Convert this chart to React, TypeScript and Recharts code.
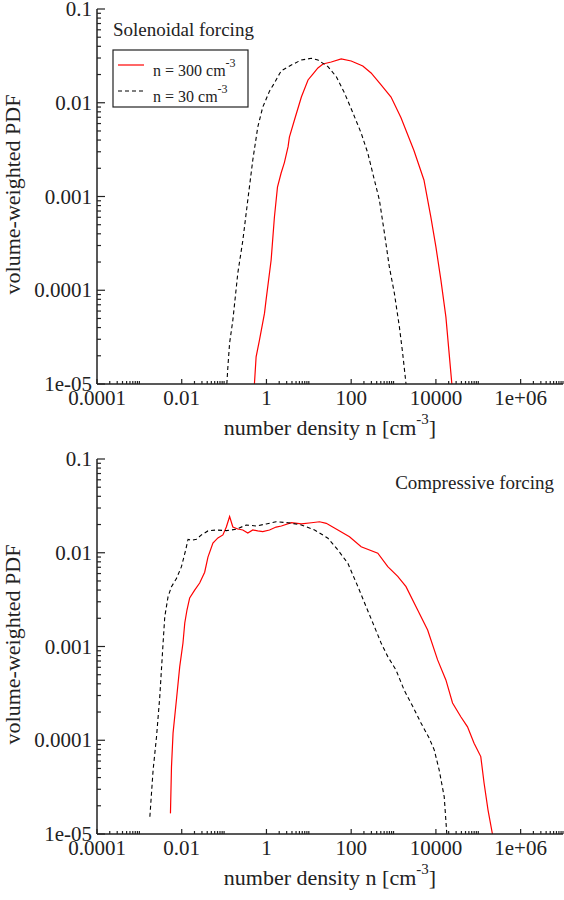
import React from 'react';
import { LineChart, Line, XAxis, YAxis, Legend, Label } from 'recharts';

// solenoidal forcing, n0 = 300 cm^-3
const solHiN = [0.52, 0.57, 0.68, 0.9, 0.98, 1.29, 1.54, 1.82, 2.22, 2.65, 3.24, 3.48, 4.56, 6.67, 9.58, 12.6, 16.4, 21.6, 33.8, 58.2, 100, 188, 295, 508, 873, 1500, 3030, 5220, 7620, 10000, 13100, 17200, 20200, 23800];
const solHiP = [1e-5, 1.95e-5, 2.9e-5, 5.7e-5, 7.9e-5, 2.1e-4, 6.0e-4, 1.26e-3, 1.78e-3, 2.3e-3, 3.4e-3, 4.3e-3, 6.5e-3, 1.15e-2, 1.75e-2, 2.03e-2, 2.35e-2, 2.59e-2, 2.72e-2, 2.93e-2, 2.79e-2, 2.47e-2, 2.08e-2, 1.55e-2, 1.15e-2, 6.9e-3, 3.1e-3, 1.5e-3, 6.0e-4, 2.9e-4, 1.29e-4, 5.2e-5, 2.3e-5, 1e-5];

// solenoidal forcing, n0 = 30 cm^-3
const solLoN = [0.116, 0.123, 0.135, 0.161, 0.211, 0.277, 0.363, 0.476, 0.624, 0.818, 1.18, 1.54, 2.02, 2.25, 3.87, 6.67, 11.5, 16.4, 28.3, 44.4, 69.5, 110, 172, 247, 353, 463, 608, 796, 1045, 1370, 1640, 1970];
const solLoP = [1e-5, 1.53e-5, 2.74e-5, 4.8e-5, 1.53e-4, 3.4e-4, 9.2e-4, 2.45e-3, 5.5e-3, 9.0e-3, 1.33e-2, 1.62e-2, 2.03e-2, 2.2e-2, 2.53e-2, 2.86e-2, 2.98e-2, 2.86e-2, 2.43e-2, 1.9e-2, 1.27e-2, 7.8e-3, 4.75e-3, 2.9e-3, 1.5e-3, 9.2e-4, 4.1e-4, 1.77e-4, 9.3e-5, 4.1e-5, 2.14e-5, 1e-5];

// compressive forcing, n0 = 300 cm^-3
const comHiN = [5.42e-3, 5.73e-3, 6.24e-3, 7.5e-3, 8.97e-3, 1.07e-2, 1.18e-2, 1.33e-2, 1.54e-2, 2.02e-2, 2.65e-2, 3.48e-2, 4.16e-2, 5.45e-2, 7.14e-2, 9.38e-2, 0.113, 0.135, 0.161, 0.211, 0.277, 0.363, 0.476, 0.624, 0.818, 1.18, 1.69, 2.25, 3.87, 6.67, 11.5, 17.9, 25.8, 48.6, 91.2, 172, 425, 731, 1256, 1970, 3710, 6380, 10960, 17200, 24700, 38700, 55700, 79600, 114600, 137000, 170000, 216000];
const comHiP = [1.66e-5, 5.2e-5, 1.19e-4, 2.7e-4, 6.1e-4, 1.09e-3, 1.78e-3, 2.45e-3, 3.3e-3, 4.0e-3, 4.75e-3, 6.2e-3, 9.0e-3, 1.27e-2, 1.44e-2, 1.55e-2, 1.88e-2, 2.43e-2, 1.88e-2, 1.79e-2, 1.75e-2, 1.62e-2, 1.75e-2, 1.71e-2, 1.68e-2, 1.75e-2, 1.88e-2, 1.93e-2, 2.09e-2, 2.03e-2, 2.09e-2, 2.14e-2, 2.06e-2, 1.75e-2, 1.48e-2, 1.16e-2, 9.9e-3, 7.1e-3, 5.6e-3, 4.35e-3, 2.45e-3, 1.5e-3, 7.2e-4, 4.4e-4, 2.5e-4, 1.78e-4, 1.39e-4, 9.3e-5, 6.7e-5, 3.5e-5, 1.8e-5, 1e-5];

// compressive forcing, n0 = 30 cm^-3
const comLoN = [1.77e-3, 2.11e-3, 2.54e-3, 3.03e-3, 3.63e-3, 3.98e-3, 4.76e-3, 5.73e-3, 7.5e-3, 9.84e-3, 1.24e-2, 1.41e-2, 1.69e-2, 2.22e-2, 2.91e-2, 4.16e-2, 6.55e-2, 0.113, 0.194, 0.333, 0.573, 0.984, 1.69, 3.24, 6.67, 13.7, 28.3, 48.6, 83.6, 144, 225, 353, 508, 731, 1146, 1795, 2830, 4440, 6950, 9120, 11960, 15700, 18100];
const comLoP = [1.53e-5, 4.8e-5, 1.09e-4, 2.9e-4, 1.09e-3, 2.08e-3, 3.4e-3, 4.35e-3, 5.3e-3, 7.1e-3, 1.07e-2, 1.39e-2, 1.36e-2, 1.39e-2, 1.55e-2, 1.71e-2, 1.75e-2, 1.72e-2, 1.78e-2, 1.98e-2, 1.93e-2, 2.03e-2, 2.14e-2, 2.09e-2, 1.98e-2, 1.75e-2, 1.43e-2, 1.07e-2, 7.7e-3, 4.35e-3, 2.66e-3, 1.63e-3, 1.09e-3, 7.8e-4, 5.6e-4, 3.4e-4, 2.3e-4, 1.53e-4, 1.05e-4, 7.9e-5, 4.8e-5, 2.5e-5, 1e-5];

const seriesNames = ['n = 300', 'n = 30'];
const xMajor = [1e-4, 1e-2, 1, 100, 1e4, 1e6];
const xLabels = ['0.0001', '0.01', '1', '100', '10000', '1e+06'];
const yMajor = [0.1, 0.01, 0.001, 0.0001, 1e-5];
const yLabels = ['0.1', '0.01', '0.001', '0.0001', '1e-05'];

const FONT = '"Liberation Serif", "Times New Roman", serif';
const INK = '#222';

const pairs = (n: number[], p: number[]) => n.map((v, i) => ({ n: v, p: p[i] }));

// minor ticks: 2..10 x each labelled x decade, 2..9 x each y decade
const xTicks = [...xMajor, ...xMajor.flatMap((m) => [2, 3, 4, 5, 6, 7, 8, 9, 10].map((k) => k * m))];
const yTicks = [...yMajor, ...yMajor.slice(1).flatMap((m) => [2, 3, 4, 5, 6, 7, 8, 9].map((k) => k * m))];

const findMajor = (v: number, list: number[]) =>
  list.findIndex((m) => Math.abs(Math.log10(v) - Math.log10(m)) < 1e-6);

const XTick = (props: any) => {
  const { x, y, payload, side } = props;
  const idx = findMajor(payload.value, xMajor);
  const len = idx >= 0 ? 5 : 3;
  const dir = side === 'bottom' ? -1 : 1;
  return (
    <g>
      <line x1={x} y1={y} x2={x} y2={y + dir * len} stroke={INK} strokeWidth={1.2} />
      {side === 'bottom' && idx >= 0 && (
        <text x={x} y={y + 21} textAnchor="middle" style={{ fontFamily: FONT, fontSize: 21 }} fill={INK}>
          {xLabels[idx]}
        </text>
      )}
    </g>
  );
};

const YTick = (props: any) => {
  const { x, y, payload, side } = props;
  const idx = findMajor(payload.value, yMajor);
  const len = idx >= 0 ? 8 : 4;
  const dir = side === 'left' ? 1 : -1;
  return (
    <g>
      <line x1={x} y1={y} x2={x + dir * len} y2={y} stroke={INK} strokeWidth={1.2} />
      {side === 'left' && idx >= 0 && (
        <text x={x - 5} y={y + 7} textAnchor="end" style={{ fontFamily: FONT, fontSize: 21 }} fill={INK}>
          {yLabels[idx]}
        </text>
      )}
    </g>
  );
};

const XTitle = (props: any) => {
  const { viewBox } = props;
  return (
    <text x={viewBox.x + viewBox.width / 2} y={viewBox.y + 51} textAnchor="middle"
      style={{ fontFamily: FONT, fontSize: 22 }} fill={INK}>
      number density n [cm
      <tspan dy={-11} style={{ fontSize: 15 }}>-3</tspan>
      <tspan dy={11}>]</tspan>
    </text>
  );
};

const YTitle = (props: any) => {
  const { viewBox } = props;
  const cy = viewBox.y + viewBox.height / 2 - 2;
  return (
    <text x={20} y={cy} transform={`rotate(-90, 20, ${cy})`} textAnchor="middle"
      style={{ fontFamily: FONT, fontSize: 22 }} fill={INK}>
      volume-weighted PDF
    </text>
  );
};

const SolenoidalLegend = (props: any) => {
  const { payload = [] } = props;
  const ordered = seriesNames
    .map((name) => payload.find((e: any) => e.value === name))
    .filter(Boolean);
  return (
    <svg width={170} height={110} style={{ display: 'block' }}>
      <text x={13} y={26} style={{ fontFamily: FONT, fontSize: 19 }} fill={INK}>Solenoidal forcing</text>
      <rect x={13} y={40} width={135} height={57} fill="#fff" stroke={INK} strokeWidth={1.2} />
      {ordered.map((entry: any, i: number) => {
        const ly = 55 + i * 26;
        return (
          <g key={i}>
            <line x1={18} y1={ly} x2={44} y2={ly} stroke={entry.color}
              strokeWidth={1.2} strokeDasharray={entry.payload?.strokeDasharray} />
            <text x={53} y={ly + 11} style={{ fontFamily: FONT, fontSize: 16 }} fill={INK}>
              {entry.value} cm
              <tspan dy={-9} style={{ fontSize: 12 }}>-3</tspan>
            </text>
          </g>
        );
      })}
    </svg>
  );
};

const CompressiveLegend = () => (
  <svg width={210} height={30} style={{ display: 'block' }}>
    <text x={204} y={19} textAnchor="end" style={{ fontFamily: FONT, fontSize: 19 }} fill={INK}>Compressive forcing</text>
  </svg>
);

interface PanelProps {
  hi: { n: number; p: number }[];
  lo: { n: number; p: number }[];
  legend: React.ReactElement;
  legendBox: React.CSSProperties;
}

const Panel: React.FC<PanelProps> = ({ hi, lo, legend, legendBox }) => (
  <LineChart width={564} height={450} margin={{ top: 9, right: 1, left: 0, bottom: 0 }}>
    <XAxis xAxisId="b" type="number" dataKey="n" scale="log" domain={[1e-4, 1e7]} allowDataOverflow
      ticks={xTicks} interval={0} height={66} tickSize={0} tickMargin={0} tickLine={false}
      axisLine={{ stroke: INK, strokeWidth: 1.5 }} tick={<XTick side="bottom" />}>
      <Label content={<XTitle />} />
    </XAxis>
    <XAxis xAxisId="t" orientation="top" type="number" dataKey="n" scale="log" domain={[1e-4, 1e7]} allowDataOverflow
      ticks={xTicks} interval={0} height={0} tickSize={0} tickMargin={0} tickLine={false}
      axisLine={{ stroke: INK, strokeWidth: 1.5 }} tick={<XTick side="top" />} />
    <YAxis yAxisId="l" type="number" scale="log" domain={[1e-5, 0.1]} allowDataOverflow
      ticks={yTicks} interval={0} width={97} tickSize={0} tickMargin={0} tickLine={false}
      axisLine={{ stroke: INK, strokeWidth: 1.5 }} tick={<YTick side="left" />}>
      <Label content={<YTitle />} />
    </YAxis>
    <YAxis yAxisId="r" orientation="right" type="number" scale="log" domain={[1e-5, 0.1]} allowDataOverflow
      ticks={yTicks} interval={0} width={0} tickSize={0} tickMargin={0} tickLine={false}
      axisLine={{ stroke: INK, strokeWidth: 1.5 }} tick={<YTick side="right" />} />
    <Legend layout="vertical" align="center" verticalAlign="middle" wrapperStyle={legendBox} content={legend} />
    <Line xAxisId="b" yAxisId="l" data={hi} dataKey="p" name={seriesNames[0]} type="linear" stroke="#ff0000"
      strokeWidth={1.2} dot={false} activeDot={false} isAnimationActive={false} />
    <Line xAxisId="b" yAxisId="l" data={lo} dataKey="p" name={seriesNames[1]} type="linear" stroke="#000000"
      strokeWidth={1.1} strokeDasharray="4 3" dot={false} activeDot={false} isAnimationActive={false} />
  </LineChart>
);

export default function App() {
  return (
    <div style={{ position: 'absolute', left: 0, top: 0, width: 564, height: 900, background: '#fff' }}>
      <Panel hi={pairs(solHiN, solHiP)} lo={pairs(solLoN, solLoP)} legend={<SolenoidalLegend />}
        legendBox={{ left: 100, top: 10, width: 170, height: 110 }} />
      <Panel hi={pairs(comHiN, comHiP)} lo={pairs(comLoN, comLoP)} legend={<CompressiveLegend />}
        legendBox={{ left: 350, top: 20, width: 210, height: 30 }} />
    </div>
  );
}
